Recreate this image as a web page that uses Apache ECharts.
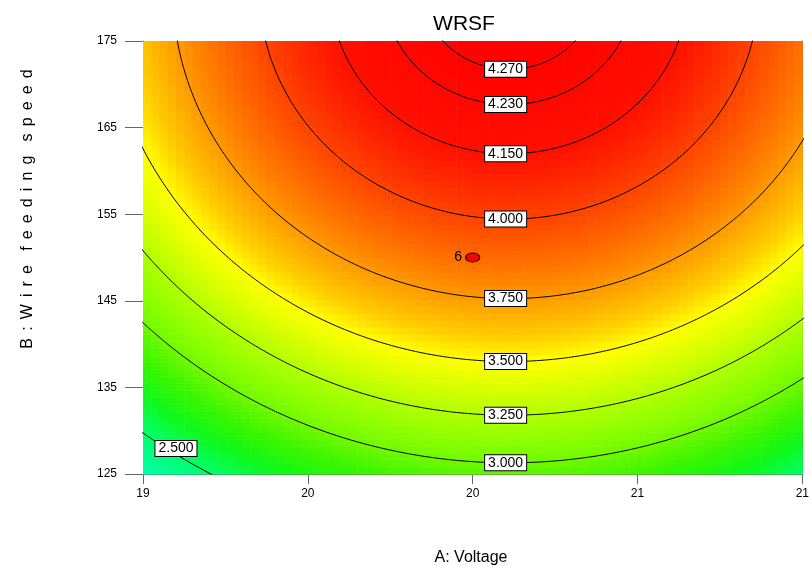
<!DOCTYPE html>
<html>
<head>
<meta charset="utf-8">
<script src="https://cdn.jsdelivr.net/npm/echarts@6/dist/echarts.min.js"></script>
<style>
  html, body { margin: 0; padding: 0; background: #fff; }
  #chart { width: 812px; height: 571px; }
</style>
</head>
<body>
<div id="chart"></div>
<script>
// Fitted quadratic response surface for WRSF, in coded units:
//   a = Voltage - 20,  b = (Wire feeding speed - 150) / 25
//   WRSF = c0 + cA*a + cB*b + cAB*a*b + cAA*a^2 + cBB*b^2
const modelTerms = ['Intercept', 'A', 'B', 'AB', 'A^2', 'B^2'];
const modelCoefs = [3.882, 0.118, 0.677, 0.0, -0.535, -0.274];

// Contour levels and where along Voltage each label sits
const contourLevels = [2.5, 3.0, 3.25, 3.5, 3.75, 4.0, 4.15, 4.23, 4.27];
const contourLabels = ['2.500', '3.000', '3.250', '3.500', '3.750', '4.000', '4.150', '4.230', '4.270'];
const contourLabelVoltage = [19.1, 20.1, 20.1, 20.1, 20.1, 20.1, 20.1, 20.1, 20.1];

// Axes
const voltageRange = [19, 21];
const speedRange = [125, 175];
const xTickValues = [19, 19.5, 20, 20.5, 21];
const xTickLabels = ['19', '20', '20', '21', '21'];
const yTickValues = [125, 135, 145, 155, 165, 175];

// Design points shown on the plot (centre point, 6 replicates)
const designPoints = [[20, 150]];
const designPointLabels = ['6'];

// Colour ramp for the shaded response
const shadeValues = [2.28, 2.5, 2.7, 2.85, 3.0, 3.1, 3.25, 3.4, 3.5, 3.6, 3.8, 4.0, 4.15, 4.3];
const shadeColors = ['#00ffaa', '#00ff70', '#10f818', '#38f600', '#70f800', '#88ff00', '#b0ff00',
                     '#e0ff00', '#ffff00', '#ffd000', '#ff8800', '#ff4400', '#ff1000', '#ff0000'];

const FONT = '"Liberation Sans", Arial, Helvetica, sans-serif';

function toCoded(v, s) { return [v - 20, (s - 150) / 25]; }
function fromCoded(a, b) { return [20 + a, 150 + 25 * b]; }

function response(a, b) {
  const c = modelCoefs;
  return c[0] + c[1] * a + c[2] * b + c[3] * a * b + c[4] * a * a + c[5] * b * b;
}

// Lower branch of the level curve: solve for b at a given a
function levelB(level, a) {
  const c = modelCoefs;
  const qa = c[5], qb = c[2] + c[3] * a, qc = c[0] + c[1] * a + c[4] * a * a - level;
  if (Math.abs(qa) < 1e-12) return -qc / qb;
  const disc = qb * qb - 4 * qa * qc;
  if (disc < 0) return null;
  const r = Math.sqrt(disc);
  return Math.min((-qb + r) / (2 * qa), (-qb - r) / (2 * qa));
}

function hexToRgb(h) {
  return [parseInt(h.slice(1, 3), 16), parseInt(h.slice(3, 5), 16), parseInt(h.slice(5, 7), 16)];
}
const shadeRgb = shadeColors.map(hexToRgb);
function shade(v) {
  if (v <= shadeValues[0]) return shadeColors[0];
  const n = shadeValues.length;
  if (v >= shadeValues[n - 1]) return shadeColors[n - 1];
  let i = 0;
  while (v > shadeValues[i + 1]) i++;
  const t = (v - shadeValues[i]) / (shadeValues[i + 1] - shadeValues[i]);
  const c0 = shadeRgb[i], c1 = shadeRgb[i + 1];
  const m = c0.map((x, k) => Math.round(x + (c1[k] - x) * t));
  return 'rgb(' + m.join(',') + ')';
}

// Shaded cells
const NX = 80, NY = 62;
const cells = [];
for (let i = 0; i < NX; i++) {
  const v0 = voltageRange[0] + (voltageRange[1] - voltageRange[0]) * i / NX;
  const v1 = voltageRange[0] + (voltageRange[1] - voltageRange[0]) * (i + 1) / NX;
  for (let j = 0; j < NY; j++) {
    const s0 = speedRange[0] + (speedRange[1] - speedRange[0]) * j / NY;
    const s1 = speedRange[0] + (speedRange[1] - speedRange[0]) * (j + 1) / NY;
    const cc = toCoded((v0 + v1) / 2, (s0 + s1) / 2);
    cells.push([v0, s0, v1, s1, response(cc[0], cc[1])]);
  }
}

// Contour polylines
const contourSeries = contourLevels.map(function (level) {
  const pts = [];
  for (let k = 0; k <= 1000; k++) {
    const a = -1.02 + 2.04 * k / 1000;
    const b = levelB(level, a);
    if (b === null || b > 1.4 || b < -1.4) { pts.push(null); continue; }
    pts.push(fromCoded(a, b));
  }
  return {
    type: 'line', data: pts, showSymbol: false, symbol: 'none', clip: true,
    connectNulls: false, silent: true, z: 3,
    lineStyle: { color: '#000', width: 1 }
  };
});

// Contour label anchors
const labelPoints = contourLevels.map(function (level, i) {
  const a = contourLabelVoltage[i] - 20;
  const b = levelB(level, a);
  const p = fromCoded(a, b);
  return { value: [p[0], p[1], contourLabels[i]], label: i === 0 ? { offset: [0, -6] } : {} };
});

const chart = echarts.init(document.getElementById('chart'), null, { renderer: 'canvas' });

const axisLineStyle = { color: '#666', width: 1 };

// Letter-spaced axis title (space + hair spaces between letters)
const SP = ' \u200A\u200A';
const yName = ['B', ':', 'W', 'i', 'r', 'e'].join(SP) + SP + SP +
              ['f', 'e', 'e', 'd', 'i', 'n', 'g'].join(SP) + SP + SP +
              ['s', 'p', 'e', 'e', 'd'].join(SP);

chart.setOption({
  animation: false,
  backgroundColor: '#fff',
  title: {
    text: 'WRSF', left: 459, top: 9, textAlign: 'center',
    textStyle: { fontFamily: FONT, fontSize: 21, fontWeight: 'normal', color: '#000' }
  },
  grid: { left: 143, right: 9, top: 41, bottom: 97, containLabel: false },
  xAxis: [{
    type: 'value', min: voltageRange[0], max: voltageRange[1], interval: 0.5,
    axisLine: { show: true, lineStyle: axisLineStyle },
    axisTick: { show: true, length: 10, lineStyle: axisLineStyle },
    axisLabel: {
      margin: 14, fontFamily: FONT, fontSize: 12, color: '#000',
      formatter: function (v) {
        const idx = xTickValues.findIndex(t => Math.abs(t - v) < 1e-6);
        return idx >= 0 ? xTickLabels[idx] : '';
      }
    },
    splitLine: { show: false }
  }, {
    type: 'value', position: 'top', min: voltageRange[0], max: voltageRange[1],
    axisLine: { show: true, lineStyle: axisLineStyle },
    axisTick: { show: false }, axisLabel: { show: false }, splitLine: { show: false }
  }],
  yAxis: [{
    type: 'value', min: speedRange[0], max: speedRange[1], interval: 5,
    axisLine: { show: true, lineStyle: axisLineStyle },
    axisTick: { show: true, length: 18, customValues: yTickValues, lineStyle: axisLineStyle },
    axisLabel: { margin: 26, fontFamily: FONT, fontSize: 12, color: '#000', customValues: yTickValues },
    splitLine: { show: false }
  }, {
    type: 'value', position: 'right', min: speedRange[0], max: speedRange[1],
    axisLine: { show: true, lineStyle: axisLineStyle },
    axisTick: { show: false }, axisLabel: { show: false }, splitLine: { show: false }
  }],
  graphic: [
    {
      type: 'text', x: 28, y: 209, rotation: Math.PI / 2, silent: true,
      style: {
        text: yName,
        font: '16px ' + FONT, fill: '#000', align: 'center', verticalAlign: 'middle'
      }
    },
    {
      type: 'text', x: 471, y: 558, silent: true,
      style: { text: 'A: Voltage', font: '16px ' + FONT, fill: '#000', align: 'center', verticalAlign: 'middle' }
    }
  ],
  series: [
    {
      type: 'custom', silent: true, z: 1, clip: true,
      encode: { x: [0, 2], y: [1, 3] },
      data: cells,
      renderItem: function (params, api) {
        const p0 = api.coord([api.value(0), api.value(1)]);
        const p1 = api.coord([api.value(2), api.value(3)]);
        return {
          type: 'rect',
          shape: {
            x: Math.min(p0[0], p1[0]), y: Math.min(p0[1], p1[1]),
            width: Math.abs(p1[0] - p0[0]) + 0.6, height: Math.abs(p1[1] - p0[1]) + 0.6
          },
          style: { fill: shade(api.value(4)) }
        };
      }
    }
  ].concat(contourSeries).concat([
    {
      type: 'scatter', silent: true, z: 5, symbol: 'circle', symbolSize: 1,
      itemStyle: { color: 'rgba(0,0,0,0)', opacity: 1 },
      data: labelPoints,
      label: {
        show: true, position: 'inside',
        formatter: function (p) { return p.value[2]; },
        fontFamily: FONT, fontSize: 14, color: '#000',
        backgroundColor: '#fff', borderColor: '#000', borderWidth: 1,
        padding: [0, 3, 0, 3], lineHeight: 15
      }
    },
    {
      type: 'scatter', silent: true, z: 6,
      symbol: 'circle', symbolSize: [14, 9],
      itemStyle: { color: '#ff0000', borderColor: '#000', borderWidth: 1, opacity: 1 },
      data: designPoints.map((p, i) => ({ value: p, name: designPointLabels[i] })),
      label: {
        show: true, position: 'left', distance: 3,
        formatter: function (p) { return p.name; },
        fontFamily: FONT, fontSize: 14, color: '#000'
      }
    }
  ])
});
</script>
</body>
</html>
